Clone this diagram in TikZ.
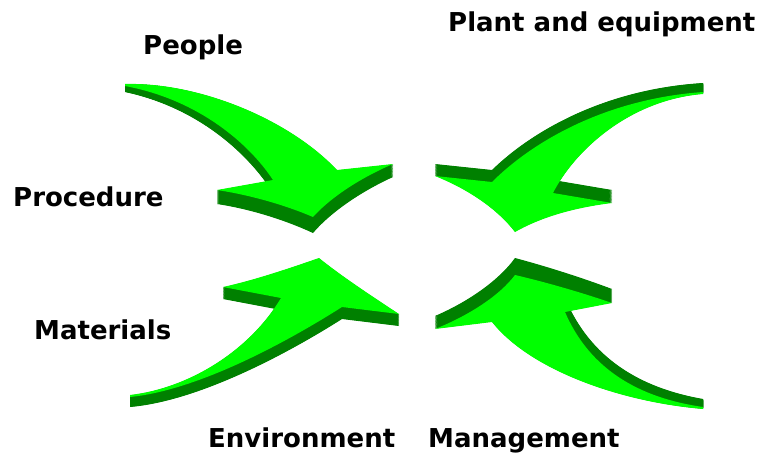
\documentclass[tikz,border=0pt]{standalone}
\usepackage{fontspec}
\setmainfont{DejaVu Sans}
\begin{document}
% Four extruded curved arrows pointing at a common centre, with cause labels.
% Coordinates are in pixel-like units: x to the right, y downwards.
% Each arrow outline takes one argument t in [0,1]: t=0 is the bright face,
% t=1 the far face; every point carries its own extrusion depth.
\newcommand{\arrowPeople}[1]{%
  (125,{84+#1*6}) .. controls (200,{82+#1*8}) and (290,{120+#1*11}) .. (337,{170+#1*12})
  -- (393,{164+#1*13})
  .. controls (360,{178+#1*14}) and (330,{198+#1*15}) .. (313,{217+#1*16})
  .. controls (285,{205+#1*15}) and (250,{195+#1*14}) .. (217,{190+#1*14})
  -- (273,{180+#1*13})
  .. controls (250,{145+#1*11}) and (200,{100+#1*8}) .. (125,{86+#1*6})
  -- cycle}
\newcommand{\arrowPlant}[1]{%
  (703,{92-#1*9}) .. controls (605,{99-#1*10}) and (532,{142-#1*11}) .. (492,{182-#1*12})
  -- (435,{176-#1*12})
  .. controls (470,{190-#1*12}) and (498,{210-#1*12}) .. (515,{232-#1*12})
  .. controls (545,{215-#1*13}) and (580,{207-#1*13}) .. (612,{203-#1*13})
  -- (553,{193-#1*13})
  .. controls (575,{150-#1*12}) and (630,{100-#1*10}) .. (703,{94-#1*9})
  -- cycle}
\newcommand{\arrowMaterials}[1]{%
  (130,{397+#1*10}) .. controls (200,{390+#1*11}) and (290,{340+#1*12}) .. (342,{307+#1*12})
  -- (399,{314+#1*12})
  .. controls (370,{295+#1*12}) and (340,{275+#1*12}) .. (319,{258+#1*12})
  .. controls (290,{268+#1*12}) and (255,{280+#1*12}) .. (223,{287+#1*12})
  -- (281,{298+#1*12})
  .. controls (250,{350+#1*11}) and (190,{388+#1*10}) .. (130,{395+#1*10})
  -- cycle}
\newcommand{\arrowManagement}[1]{%
  (515,{275-#1*17}) .. controls (545,{282-#1*16}) and (580,{292-#1*15}) .. (612,{303-#1*14})
  -- (565,{312-#1*14})
  .. controls (590,{370-#1*12}) and (640,{398-#1*10}) .. (703,{407-#1*8})
  -- (703,{409-#1*8})
  .. controls (620,{402-#1*10}) and (530,{370-#1*12}) .. (492,{322-#1*13})
  -- (435,{329-#1*13})
  .. controls (470,{315-#1*14}) and (500,{295-#1*16}) .. (515,{275-#1*17})
  -- cycle}
\begin{tikzpicture}[x=1pt,y=-1pt,
    sideface/.style={fill={rgb,255:red,0;green,128;blue,0}},
    topface/.style={fill={rgb,255:red,0;green,255;blue,0}},
    cause/.style={anchor=base west,inner sep=0pt,
      font=\fontsize{26}{31}\selectfont\bfseries}]
  \useasboundingbox (0,0) rectangle (760,453);
  \fill[white] (0,0) rectangle (760,453);

  % extruded sides, built up as a stack of thin slices
  \foreach \k in {1,...,28}{
    \pgfmathsetmacro\t{\k/28}
    \fill[sideface] \arrowPeople{\t};
    \fill[sideface] \arrowPlant{\t};
    \fill[sideface] \arrowMaterials{\t};
    \fill[sideface] \arrowManagement{\t};
  }
  % bright faces
  \fill[topface] \arrowPeople{0};
  \fill[topface] \arrowPlant{0};
  \fill[topface] \arrowMaterials{0};
  \fill[topface] \arrowManagement{0};

  % labels
  \node[cause] (people) at (143,54) {People};
  \node[cause] (plant) at (448,31) {Plant and equipment};
  \node[cause] (procedure) at (13,206) {Procedure};
  \node[cause] (materials) at (34,339) {Materials};
  \node[cause] (environment) at (208,447) {Environment};
  \node[cause] (management) at (428,447) {Management};
\end{tikzpicture}
\end{document}
